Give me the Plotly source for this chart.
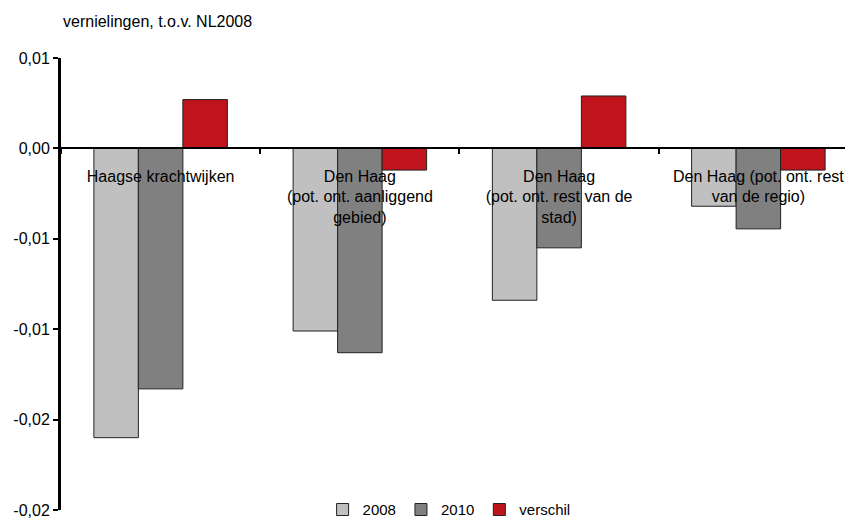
import plotly.graph_objects as go

categories = [
    "Haagse krachtwijken",
    "Den Haag<br>(pot. ont. aanliggend<br>gebied)",
    "Den Haag<br>(pot. ont. rest van de<br>stad)",
    "Den Haag (pot. ont. rest<br>van de regio)",
]
v2008 = [-0.0160, -0.0101, -0.0084, -0.0032]
v2010 = [-0.0133, -0.0113, -0.0055, -0.00445]
verschil = [0.0027, -0.0012, 0.0029, -0.0012]

tick_vals = [-0.02, -0.015, -0.01, -0.005, 0.0, 0.005]
tick_text = ["-0,02", "-0,02", "-0,01", "-0,01", "0,00", "0,01"]

FONT = "Liberation Sans, Arial, sans-serif"
line = dict(color="#222222", width=1)

fig = go.Figure()
fig.add_bar(x=categories, y=v2008, name="2008", marker=dict(color="#C0C0C0", line=line))
fig.add_bar(x=categories, y=v2010, name="2010", marker=dict(color="#808080", line=line))
fig.add_bar(x=categories, y=verschil, name="verschil", marker=dict(color="#C0141C", line=line))

fig.update_layout(
    template="none",
    width=845, height=513,
    margin=dict(l=53, r=0, t=50, b=11, autoexpand=False),
    paper_bgcolor="white", plot_bgcolor="white",
    font=dict(family=FONT, size=16, color="black"),
    barmode="group", bargap=0.33, bargroupgap=0,
    showlegend=True,
    legend=dict(orientation="h", x=0.49, xanchor="center", y=-0.036, yanchor="bottom",
                font=dict(size=15), itemwidth=30, tracegroupgap=0, borderwidth=0,
                bgcolor="rgba(0,0,0,0)"),
    xaxis=dict(
        type="category", range=[-0.5, 3.475],
        anchor="free", position=0.8, automargin=False,
        showline=True, linecolor="black", linewidth=2,
        ticks="outside", ticklen=5, tickcolor="black", tickwidth=2,
        tickson="boundaries", showgrid=False, zeroline=False,
        tickfont=dict(size=16), ticklabelstandoff=13,
    ),
    yaxis=dict(
        range=[-0.02, 0.005], automargin=False,
        tickvals=tick_vals, ticktext=tick_text,
        showline=True, linecolor="black", linewidth=3,
        ticks="outside", ticklen=5, tickcolor="black", tickwidth=2,
        showgrid=False, zeroline=False,
        tickfont=dict(size=16),
    ),
    annotations=[dict(
        text="vernielingen, t.o.v. NL2008", xref="paper", yref="paper",
        x=0.0, y=1.08, xanchor="left", yanchor="middle", showarrow=False,
        font=dict(size=16),
    )],
)

fig.write_html("out.html")
